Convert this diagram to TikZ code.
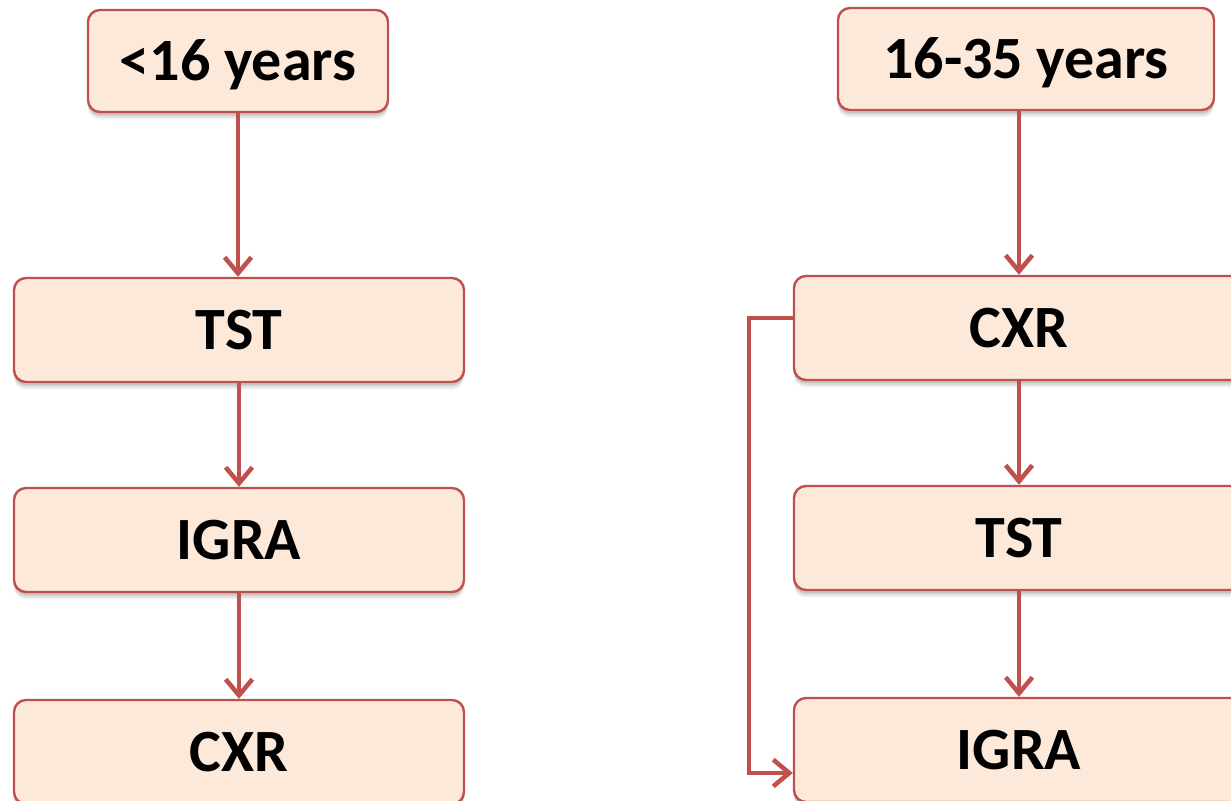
\documentclass[tikz,border=0pt]{standalone}
\usepackage{fontspec}
\setmainfont{Carlito}
\usetikzlibrary{arrows.meta}
\definecolor{boxfill}{HTML}{FDE9D9}
\definecolor{boxline}{HTML}{C0504D}
\tikzset{
  softshadow/.style={
    preaction={fill=black, opacity=0.06, transform canvas={yshift=-5.5pt}},
    preaction={fill=black, opacity=0.08, transform canvas={yshift=-4pt}},
    preaction={fill=black, opacity=0.10, transform canvas={yshift=-2.5pt}}},
  stage/.style={rectangle, rounded corners=9pt, draw=boxline, line width=1.8pt,
    fill=boxfill, softshadow, inner sep=0pt, minimum width=337.5pt,
    minimum height=78pt, text height=29pt, text depth=0pt,
    font=\fontsize{45}{54}\selectfont\bfseries},
  agebox/.style={stage, minimum height=76.5pt},
  arr/.style={draw=boxline, line width=3.4pt,
    -{Straight Barb[length=12pt,width=20pt,line width=3.4pt]}}
}
\begin{document}
\begin{tikzpicture}[x=0.75pt,y=-0.75pt]
\useasboundingbox (0,0) rectangle (1231,800);
\begin{scope}
\clip (0,0) rectangle (1231,800);
% left column: under 16
\node[agebox, minimum width=225pt] (lage) at (238,61) {<16 years};
\node[stage] (ltst) at (239,330) {TST};
\node[stage] (ligra) at (239,540) {IGRA};
\node[stage] (lcxr) at (239,752) {CXR};
% right column: 16 to 35
\node[agebox, minimum width=282pt] (rage) at (1026,59) {16-35 years};
\node[stage] (rcxr) at (1019,328) {CXR};
\node[stage] (rtst) at (1019,538) {TST};
\node[stage] (rigra) at (1019,750) {IGRA};
% vertical flow
\draw[arr] (lage.south) -- (lage.south |- ltst.north);
\draw[arr] (ltst.south) -- (ligra.north);
\draw[arr] (ligra.south) -- (lcxr.north);
\draw[arr] ([xshift=-5.25pt]rage.south) -- ([xshift=-5.25pt]rage.south |- rcxr.north);
\draw[arr] (rcxr.south) -- (rtst.north);
\draw[arr] (rtst.south) -- (rigra.north);
% bypass from CXR straight to IGRA
\coordinate (bstart) at ([yshift=7.5pt]rcxr.west);
\coordinate (bend) at ([yshift=-17.25pt]rigra.west);
\draw[arr] (bstart) -- ++(-33pt,0) |- (bend);
\end{scope}
\end{tikzpicture}
\end{document}
